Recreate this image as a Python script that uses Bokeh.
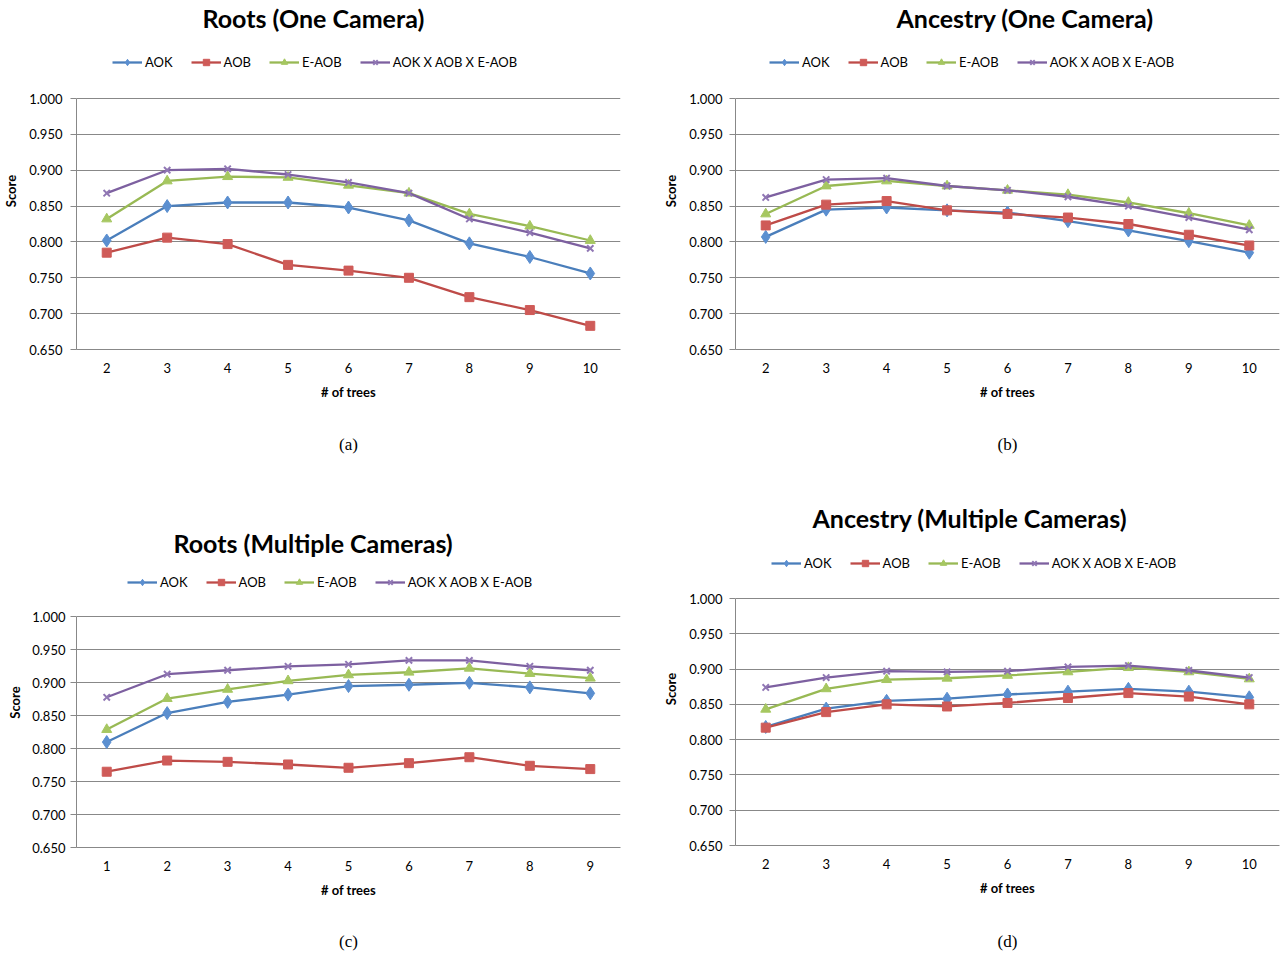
from bokeh.plotting import figure
from bokeh.layouts import column, row
from bokeh.models import (Range1d, FixedTicker, NumeralTickFormatter, Legend,
                          LegendItem, LinearAxis)
from bokeh.embed import file_html
from bokeh.resources import INLINE

# ---------------- data ----------------
series_names = ["AOK", "AOB", "E-AOB", "AOK X AOB X E-AOB"]
y_ticks = [0.650, 0.700, 0.750, 0.800, 0.850, 0.900, 0.950, 1.000]

trees_a = [2, 3, 4, 5, 6, 7, 8, 9, 10]
roots_one_aok = [0.802, 0.850, 0.855, 0.855, 0.848, 0.830, 0.798, 0.779, 0.756]
roots_one_aob = [0.785, 0.806, 0.797, 0.768, 0.760, 0.750, 0.723, 0.705, 0.683]
roots_one_eaob = [0.832, 0.885, 0.891, 0.890, 0.879, 0.868, 0.839, 0.822, 0.802]
roots_one_comb = [0.868, 0.900, 0.902, 0.894, 0.883, 0.868, 0.832, 0.813, 0.791]

trees_b = [2, 3, 4, 5, 6, 7, 8, 9, 10]
anc_one_aok = [0.807, 0.845, 0.848, 0.844, 0.841, 0.829, 0.816, 0.801, 0.785]
anc_one_aob = [0.823, 0.852, 0.857, 0.844, 0.839, 0.834, 0.825, 0.810, 0.795]
anc_one_eaob = [0.839, 0.878, 0.885, 0.878, 0.872, 0.866, 0.855, 0.840, 0.823]
anc_one_comb = [0.862, 0.887, 0.889, 0.878, 0.872, 0.863, 0.850, 0.834, 0.817]

trees_c = [1, 2, 3, 4, 5, 6, 7, 8, 9]
roots_multi_aok = [0.810, 0.854, 0.871, 0.882, 0.895, 0.897, 0.900, 0.893, 0.884]
roots_multi_aob = [0.765, 0.782, 0.780, 0.776, 0.771, 0.778, 0.787, 0.774, 0.769]
roots_multi_eaob = [0.829, 0.876, 0.890, 0.903, 0.912, 0.916, 0.922, 0.914, 0.907]
roots_multi_comb = [0.878, 0.913, 0.919, 0.925, 0.928, 0.934, 0.934, 0.925, 0.919]

trees_d = [2, 3, 4, 5, 6, 7, 8, 9, 10]
anc_multi_aok = [0.818, 0.844, 0.855, 0.858, 0.864, 0.868, 0.872, 0.868, 0.860]
anc_multi_aob = [0.817, 0.839, 0.850, 0.847, 0.852, 0.859, 0.866, 0.861, 0.850]
anc_multi_eaob = [0.843, 0.872, 0.885, 0.887, 0.891, 0.896, 0.902, 0.896, 0.886]
anc_multi_comb = [0.874, 0.888, 0.897, 0.896, 0.897, 0.903, 0.905, 0.898, 0.888]

# ---------------- style ----------------
FONT = "Lato"
LINE_COLORS = ["#4a7ebb", "#be4b48", "#98b954", "#7d60a0"]
MARK_COLORS = ["#5b8fd0", "#cf5b58", "#a6c761", "#9077b4"]
MARKERS = ["diamond", "square", "triangle", "x"]
MSIZES = [13, 9, 10, 9]
GRID = "#888888"
Y_LO, Y_HI = 0.65, 1.0


def make_chart(title, xs, ys_list, caption, width, height, L, top_px,
               y1_px, bottom_px, title_off, leg_x, leg_center_px,
               tick_standoff, label_standoff, cap_standoff):
    # L = (left, right, top, bottom) borders in pixels
    bl, br, bt, bb = L
    # frame spans from top_px to bottom_px; 1.000 sits at y1_px
    y_top = Y_LO + (Y_HI - Y_LO) * (bottom_px - top_px) / (bottom_px - y1_px)
    p = figure(width=width, height=height, output_backend="svg",
               toolbar_location=None,
               x_range=Range1d(xs[0] - 0.5, xs[-1] + 0.5),
               y_range=Range1d(Y_LO, y_top),
               min_border_left=bl, min_border_right=br,
               min_border_top=bt, min_border_bottom=bb)
    p.outline_line_color = None

    items = []
    for ys, name, lc, mc, mk, ms in zip(ys_list, series_names, LINE_COLORS,
                                        MARK_COLORS, MARKERS, MSIZES):
        r1 = p.line(xs, ys, line_color=lc, line_width=2.3)
        r2 = p.scatter(xs, ys, marker=mk, size=ms, fill_color=mc,
                       line_color=mc, line_width=2 if mk == "x" else 1)
        items.append(LegendItem(label=name, renderers=[r1, r2]))

    # x axis
    p.xaxis.ticker = FixedTicker(ticks=xs)
    p.xaxis.major_tick_out = 0
    p.xaxis.major_tick_in = 0
    p.xaxis.minor_tick_out = 0
    p.xaxis.minor_tick_in = 0
    p.xaxis.axis_line_color = GRID
    p.xaxis.major_label_text_font = FONT
    p.xaxis.major_label_text_font_size = "13px"
    p.xaxis.major_label_text_color = "black"
    p.xaxis.major_label_standoff = 13
    p.xaxis.axis_label = "# of trees"
    p.xaxis.axis_label_text_font = FONT
    p.xaxis.axis_label_text_font_style = "bold"
    p.xaxis.axis_label_text_font_size = "13px"
    p.xaxis.axis_label_text_color = "black"
    p.xaxis.axis_label_standoff = 8

    # y axis
    p.yaxis.ticker = FixedTicker(ticks=y_ticks)
    p.yaxis.formatter = NumeralTickFormatter(format="0.000")
    p.yaxis.bounds = (Y_LO, Y_HI)
    p.yaxis.major_tick_out = 6
    p.yaxis.major_tick_in = 0
    p.yaxis.minor_tick_out = 0
    p.yaxis.minor_tick_in = 0
    p.yaxis.major_tick_line_color = GRID
    p.yaxis.axis_line_color = GRID
    p.yaxis.major_label_text_font = FONT
    p.yaxis.major_label_text_font_size = "13px"
    p.yaxis.major_label_text_color = "black"
    p.yaxis.major_label_standoff = tick_standoff
    p.yaxis.axis_label = "Score"
    p.yaxis.axis_label_text_font = FONT
    p.yaxis.axis_label_text_font_style = "bold"
    p.yaxis.axis_label_text_font_size = "13px"
    p.yaxis.axis_label_text_color = "black"
    p.yaxis.axis_label_standoff = label_standoff

    p.xgrid.visible = False
    p.ygrid.ticker = FixedTicker(ticks=y_ticks)
    p.ygrid.grid_line_color = GRID
    p.ygrid.grid_line_width = 1

    # caption below the x axis label
    cap = LinearAxis(ticker=FixedTicker(ticks=[]), axis_label=caption,
                     axis_line_color=None, major_tick_line_color=None,
                     minor_tick_line_color=None, major_label_standoff=0,
                     major_tick_out=0, major_tick_in=0,
                     minor_tick_out=0, minor_tick_in=0,
                     axis_label_standoff=cap_standoff,
                     axis_label_text_font="Liberation Serif",
                     axis_label_text_font_style="normal",
                     axis_label_text_font_size="17px",
                     axis_label_text_color="black")
    p.add_layout(cap, "below")

    # legend (placed in the frame area above the 1.000 line)
    leg_h = 16
    legend = Legend(items=items, orientation="horizontal",
                    location=(leg_x, (bottom_px - leg_center_px) - leg_h / 2),
                    padding=0, margin=0, spacing=18,
                    glyph_width=30, glyph_height=leg_h, label_height=leg_h,
                    label_standoff=3, label_text_font=FONT,
                    label_text_font_size="13px", label_text_color="black",
                    border_line_color=None, background_fill_alpha=0)
    p.add_layout(legend, "center")

    p.title.text = title
    p.title.text_font = FONT
    p.title.text_font_style = "bold"
    p.title.text_font_size = "25px"
    p.title.text_color = "black"
    p.title.align = "left"
    p.title.offset = title_off
    p.title.standoff = 0
    return p


ROW1_H = 488
ROW2_H = 465

pa = make_chart("Roots (One Camera)", trees_a,
                [roots_one_aok, roots_one_aob, roots_one_eaob, roots_one_comb],
                "(a)", 648, ROW1_H, (74, 28, 32, 139), 32, 98, 349,
                126, 36, 62, 8, 7, 32)
pb = make_chart("Ancestry (One Camera)", trees_b,
                [anc_one_aok, anc_one_aob, anc_one_eaob, anc_one_comb],
                "(b)", 632, ROW1_H, (87, 1, 32, 139), 32, 98, 349,
                161, 34, 62, 7, 7, 32)
pc = make_chart("Roots (Multiple Cameras)", trees_c,
                [roots_multi_aok, roots_multi_aob, roots_multi_eaob, roots_multi_comb],
                "(c)", 648, ROW2_H, (74, 28, 69, 103), 557, 617, 850,
                97, 51, 585, 5, 6, 31)
pd = make_chart("Ancestry (Multiple Cameras)", trees_d,
                [anc_multi_aok, anc_multi_aob, anc_multi_eaob, anc_multi_comb],
                "(d)", 632, ROW2_H, (86, 1, 44, 108), 532, 598, 845,
                77, 36, 563, 7, 7, 33)

layout = row(column(pa, pc), column(pb, pd))
open("out.html", "w").write(file_html(layout, INLINE))
